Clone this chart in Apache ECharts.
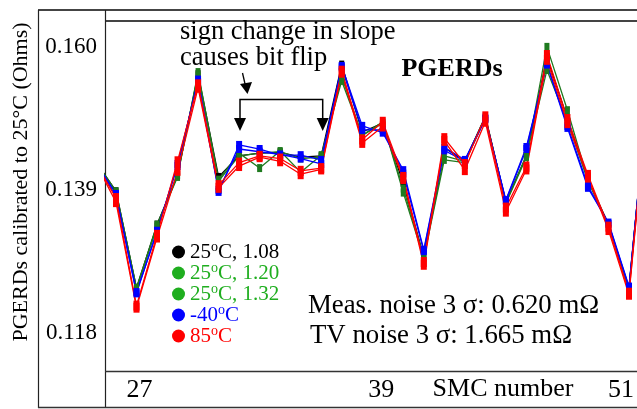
<!DOCTYPE html>
<html>
<head>
<meta charset="utf-8">
<script src="https://cdn.jsdelivr.net/npm/echarts@6/dist/echarts.min.js"></script>
<style>
html,body{margin:0;padding:0;background:#fff;}
#chart{width:637px;height:409px;}
</style>
</head>
<body>
<div id="chart"></div>
<script>
// ---- data ----
const smc = [25,26,27,28,29,30,31,32,33,34,35,36,37,38,39,40,41,42,43,44,45,46,47,48,49,50,51,52];
const black108 = [0.1432,0.1388,0.1246,0.1339,0.1412,0.1560,0.1409,0.1440,0.1444,0.1445,0.1438,0.1440,0.1574,0.1475,0.1488,0.1400,0.1292,0.1452,0.1432,0.1498,0.1372,0.1440,0.1585,0.1495,0.1405,0.1340,0.1245,0.1560];
const green120 = [0.1432,0.1388,0.1246,0.1339,0.1409,0.1563,0.1405,0.1444,0.1422,0.1447,0.1416,0.1441,0.1550,0.1470,0.1490,0.1386,0.1290,0.1434,0.1430,0.1496,0.1370,0.1438,0.1600,0.1507,0.1405,0.1336,0.1245,0.1560];
const green132 = [0.1430,0.1386,0.1244,0.1336,0.1412,0.1558,0.1403,0.1440,0.1444,0.1446,0.1436,0.1438,0.1556,0.1470,0.1488,0.1392,0.1292,0.1440,0.1432,0.1497,0.1372,0.1440,0.1566,0.1490,0.1403,0.1338,0.1244,0.1558];
const blueM40a = [0.1431,0.1384,0.1238,0.1330,0.1425,0.1552,0.1387,0.1456,0.1450,0.1441,0.1441,0.1434,0.1572,0.1484,0.1474,0.1419,0.1302,0.1452,0.1434,0.1495,0.1375,0.1453,0.1574,0.1481,0.1393,0.1342,0.1248,0.1558];
const blueM40b = [0.1431,0.1380,0.1240,0.1328,0.1428,0.1548,0.1390,0.1450,0.1446,0.1442,0.1436,0.1428,0.1570,0.1478,0.1478,0.1414,0.1300,0.1448,0.1432,0.1494,0.1374,0.1450,0.1576,0.1484,0.1396,0.1340,0.1247,0.1558];
const red85a = [0.1430,0.1378,0.1220,0.1324,0.1432,0.1545,0.1397,0.1430,0.1440,0.1436,0.1418,0.1422,0.1565,0.1464,0.1490,0.1409,0.1284,0.1466,0.1428,0.1498,0.1364,0.1424,0.1588,0.1494,0.1412,0.1336,0.1239,0.1556];
const red85b = [0.1430,0.1372,0.1217,0.1320,0.1418,0.1540,0.1393,0.1425,0.1438,0.1432,0.1413,0.1420,0.1562,0.1459,0.1483,0.1406,0.1280,0.1462,0.1419,0.1490,0.1358,0.1420,0.1581,0.1488,0.1408,0.1331,0.1236,0.1555];
const xTicks = [27,39,51];
const yTicks = [0.118,0.139,0.160];
const legendNames = ['25°C, 1.08','25°C, 1.20','25°C, 1.32','-40°C','85°C'];

// ---- chart ----
const FONT = 'Liberation Serif';
const chart = echarts.init(document.getElementById('chart'), null, {renderer:'canvas'});
const pairs = arr => smc.map((x,i)=>[x, arr[i]]);
const GREEN_LINE = '#1f7a1f', GREEN_TXT = '#1fae1f';
function mk(name, arr, color, sz){
  return {
    name, type:'line', data:pairs(arr), color,
    symbol:'rect', symbolSize:sz || [5,8],
    lineStyle:{width:1.3, color}, itemStyle:{color},
    animation:false, silent:true
  };
}
const legendColors = ['#000000', GREEN_TXT, GREEN_TXT, '#0000ff', '#ff0000'];
const option = {
  backgroundColor:'#fff',
  animation:false,
  grid:{left:105, right:0, top:21, bottom:38, containLabel:false},
  xAxis:{
    type:'value', min:25.465, max:51.34,
    axisLine:{show:false}, axisTick:{show:false}, splitLine:{show:false},
    axisLabel:{
      customValues:xTicks, margin:6,
      fontFamily:FONT, fontSize:26, color:'#000',
      formatter:v => v===27 ? '{l|27}' : (v===51 ? '{r|51}' : '{c|'+v+'}'),
      rich:{
        l:{fontFamily:FONT, fontSize:26, color:'#000', padding:[0,0,0,6]},
        r:{fontFamily:FONT, fontSize:26, color:'#000', padding:[0,16,0,0]},
        c:{fontFamily:FONT, fontSize:26, color:'#000', padding:[0,3,0,0]}
      }
    }
  },
  yAxis:{
    type:'value', min:0.1124, max:0.1638,
    axisLine:{show:false}, axisTick:{show:false}, splitLine:{show:false},
    axisLabel:{
      customValues:yTicks, margin:8,
      fontFamily:FONT, fontSize:23, color:'#000',
      formatter:v => v.toFixed(3)
    }
  },
  legend:{
    data:legendNames.map((n,i)=>({name:n, icon:'circle', itemStyle:{color:legendColors[i]}, textStyle:{color:legendColors[i]}})),
    orient:'vertical', left:167, top:235,
    itemWidth:13, itemHeight:13, itemGap:-3,
    selectedMode:false,
    formatter:name => { const p = name.split('°'); return '{n|'+p[0]+'}{s|o}{n|'+p[1]+'}'; },
    textStyle:{
      fontFamily:FONT, fontSize:21, lineHeight:21,
      rich:{
        n:{fontFamily:FONT, fontSize:21, lineHeight:21},
        s:{fontFamily:FONT, fontSize:14, lineHeight:10, padding:[0,0,10,0]}
      }
    }
  },
  series:[
    mk('25°C, 1.08', black108, '#000000'),
    mk('25°C, 1.20', green120, GREEN_LINE),
    mk('25°C, 1.32', green132, GREEN_LINE),
    mk('-40°C', blueM40a, '#0000ff', [6,8]),
    mk('-40°C b', blueM40b, '#0000ff', [6,8]),
    mk('85°C', red85a, '#ff0000', [6,10]),
    mk('85°C b', red85b, '#ff0000', [6,10])
  ],
  graphic:[
    // frame lines
    {type:'line', shape:{x1:38, y1:10, x2:637, y2:10}, style:{stroke:'#444', lineWidth:2}, silent:true},
    {type:'line', shape:{x1:105, y1:21, x2:637, y2:21}, style:{stroke:'#444', lineWidth:2}, silent:true},
    {type:'line', shape:{x1:38.5, y1:10, x2:38.5, y2:408}, style:{stroke:'#222', lineWidth:1.2}, silent:true},
    {type:'line', shape:{x1:105.5, y1:10, x2:105.5, y2:408}, style:{stroke:'#222', lineWidth:1.2}, silent:true},
    {type:'line', shape:{x1:105, y1:371.5, x2:637, y2:371.5}, style:{stroke:'#333', lineWidth:1.5}, silent:true},
    {type:'line', shape:{x1:38, y1:407.5, x2:637, y2:407.5}, style:{stroke:'#333', lineWidth:1.5}, silent:true},
    // y axis title
    {type:'text', x:21, y:182, rotation:Math.PI/2, style:{text:'PGERDs calibrated to 25°C (Ohms)', fontFamily:FONT, fontSize:22, fill:'#000', align:'center', verticalAlign:'middle'}, silent:true},
    // x axis title
    {type:'text', x:503, y:389, style:{text:'SMC number', fontFamily:FONT, fontSize:26, fill:'#000', align:'center', verticalAlign:'middle'}, silent:true},
    // chart label
    {type:'text', x:452, y:69, style:{text:'PGERDs', fontFamily:FONT, fontSize:26, fontWeight:'bold', fill:'#000', align:'center', verticalAlign:'middle'}, silent:true},
    // annotation
    {type:'text', x:180, y:32, style:{text:'sign change in slope', fontFamily:FONT, fontSize:26.5, fill:'#000', align:'left', verticalAlign:'middle'}, silent:true},
    {type:'text', x:180, y:58, style:{text:'causes bit flip', fontFamily:FONT, fontSize:26.5, fill:'#000', align:'left', verticalAlign:'middle'}, silent:true},
    {type:'line', shape:{x1:242.5, y1:73, x2:245.5, y2:86}, style:{stroke:'#000', lineWidth:1.3}, silent:true},
    {type:'polygon', shape:{points:[[240,84],[252,82],[247.5,94]]}, style:{fill:'#000'}, silent:true},
    {type:'polyline', shape:{points:[[240,119],[240,99.5],[322.7,99.5],[322.7,119]]}, style:{stroke:'#000', lineWidth:1.5, fill:null}, silent:true},
    {type:'polygon', shape:{points:[[234,118],[246,118],[240,131]]}, style:{fill:'#000'}, silent:true},
    {type:'polygon', shape:{points:[[316.7,118],[328.7,118],[322.7,131]]}, style:{fill:'#000'}, silent:true},
    // noise texts
    {type:'text', x:308, y:306, style:{text:'Meas. noise 3 σ: 0.620 mΩ', fontFamily:FONT, fontSize:26.8, fill:'#000', align:'left', verticalAlign:'middle'}, silent:true},
    {type:'text', x:310, y:336, style:{text:'TV noise 3 σ: 1.665 mΩ', fontFamily:FONT, fontSize:26.8, fill:'#000', align:'left', verticalAlign:'middle'}, silent:true}
  ]
};
chart.setOption(option);
</script>
</body>
</html>
